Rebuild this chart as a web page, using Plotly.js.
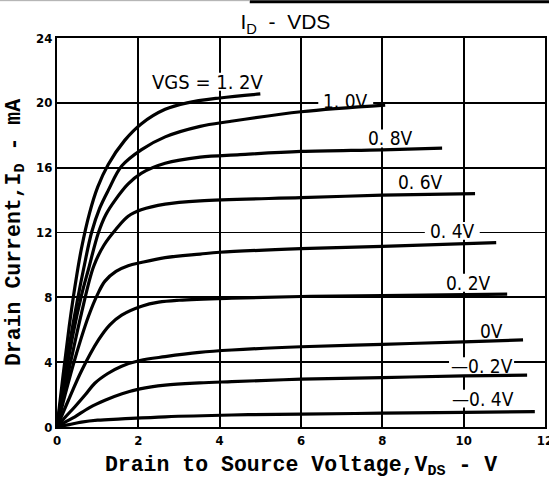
<!DOCTYPE html>
<html><head><meta charset="utf-8">
<script src="https://cdn.plot.ly/plotly-3.0.1.min.js"></script>
<style>html,body{margin:0;padding:0;background:#fff}</style>
</head><body><div id="chart" style="width:549px;height:488px"></div>
<script>
// VGS curve labels
const vgsLabels = ["VGS = 1. 2V","1. 0V","0. 8V","0. 6V","0. 4V","0. 2V","0V","—0. 2V","—0. 4V"];
// VDS (V) and ID (mA) for each VGS curve
const vds_p12 = [0,0.15,0.3,0.45,0.6,0.8,1.0,1.26,1.67,2.07,2.66,3.2,4,5];
const id_p12  = [0,3.2,6.2,8.8,11.0,13.2,14.8,16.2,17.7,18.7,19.6,20.0,20.3,20.55];
const vds_p10 = [0,0.15,0.3,0.5,0.65,0.85,1.05,1.26,1.59,2.07,2.66,3.52,4.25,6,8.07];
const id_p10  = [0,2.6,5.0,7.8,9.7,12.0,13.5,14.6,16.1,17.1,17.9,18.55,18.85,19.45,19.86];
const vds_p08 = [0,0.2,0.4,0.6,0.77,1.02,1.2,1.43,1.75,2.07,2.66,3.52,4.5,6,8,9.47];
const id_p08  = [0,3.0,5.8,8.1,9.7,12.0,13.1,14.0,15.0,15.65,16.27,16.65,16.8,17.0,17.1,17.2];
const vds_p06 = [0,0.3,0.6,0.9,1.15,1.45,1.75,2.07,2.66,3.52,6,8,10.28];
const id_p06  = [0,3.6,7.0,9.9,11.2,12.2,13.0,13.4,13.75,13.95,14.15,14.3,14.4];
const vds_p04 = [0,0.2,0.44,0.77,1.0,1.18,1.45,1.75,2.07,2.66,3.52,4,6,8,10.8];
const id_p04  = [0,2.0,4.2,6.8,8.2,9.0,9.6,9.95,10.15,10.45,10.67,10.78,11.0,11.15,11.37];
const vds_p02 = [0,0.28,0.61,1.02,1.3,1.59,2.08,2.5,3,4.3,6,8,11.07];
const id_p02  = [0,1.65,3.5,5.37,6.3,6.9,7.45,7.7,7.82,7.95,8.05,8.1,8.2];
const vds_z   = [0,0.2,0.44,0.7,0.93,1.25,1.59,2.04,2.66,3.5,4.3,6,8,10,11.46];
const id_z    = [0,0.6,1.25,2.0,2.7,3.3,3.75,4.1,4.34,4.6,4.75,4.95,5.1,5.25,5.37];
const vds_m02 = [0,0.2,0.44,0.8,1.18,1.6,2.04,2.66,3.5,4.3,6,8,10,11.56];
const id_m02  = [0,0.3,0.63,1.2,1.65,2.05,2.35,2.58,2.72,2.8,2.95,3.05,3.15,3.2];
const vds_m04 = [0,0.3,0.6,1.0,1.59,2.66,4.3,6,8,10,11.75];
const id_m04  = [0,0.15,0.3,0.42,0.5,0.63,0.74,0.8,0.85,0.9,0.95];
// label anchor positions (data units)
const labelX = [3.69,7.1,8.2,8.95,9.72,10.13,10.69,10.44,10.48];
const labelY = [21.3,20.1,17.8,15.1,12.1,8.9,5.95,3.75,1.75];

const xs = [vds_p12,vds_p10,vds_p08,vds_p06,vds_p04,vds_p02,vds_z,vds_m02,vds_m04];
const ys = [id_p12,id_p10,id_p08,id_p06,id_p04,id_p02,id_z,id_m02,id_m04];

const traces = xs.map((x,i)=>({
  x:x, y:ys[i], type:'scatter', mode:'lines', name:vgsLabels[i],
  line:{color:'#000', width:3.2, shape:'spline', smoothing:1.0},
  hoverinfo:'x+y+name'
}));

const narrow = '"Liberation Sans Narrow","DejaVu Sans Condensed",Arial,sans-serif';
const annotations = vgsLabels.map((t,i)=>({
  x:labelX[i], y:labelY[i], xref:'x', yref:'y', text:t, showarrow:false,
  font:{family:narrow, size:i===0?20:19, color:'#000'}, xanchor:'center', yanchor:'middle'
}));

const shapes = vgsLabels.map((t,i)=>{
  const hw = t.length*0.125+0.05;
  return {type:'rect', xref:'x', yref:'y', layer:'between',
    x0:labelX[i]-hw, x1:labelX[i]+hw, y0:labelY[i]-0.55, y1:labelY[i]+0.55,
    fillcolor:'#fff', line:{width:0}};
});
shapes.push({type:'line', xref:'paper', yref:'paper', x0:0.395, x1:1.02, y0:1.093, y1:1.093, line:{color:'#000', width:3}});
shapes.push({type:'line', xref:'paper', yref:'paper', x0:-0.12, x1:0.395, y0:1.096, y1:1.096, line:{color:'#aaa', width:1}});

const mono = '"Liberation Mono","Courier New",monospace';
const tickFont = {family:narrow, size:13, color:'#000', weight:'bold'};

const layout = {
  width:549, height:488,
  margin:{l:57, r:4, t:38, b:61},
  paper_bgcolor:'#fff', plot_bgcolor:'#fff',
  showlegend:false,
  title:{text:'I<sub>D</sub>  -  VDS', x:0.468, xref:'paper', xanchor:'center', y:0.955, yref:'container', yanchor:'middle',
    font:{family:'"Liberation Sans",Arial,sans-serif', size:21, color:'#000'}},
  xaxis:{range:[0,12], tickvals:[0,2,4,6,8,10,12], ticktext:['0','2','4','6','8','10','12'],
    ticklabeloverflow:'allow',
    showgrid:true, gridcolor:'#000', gridwidth:1.7, zeroline:false,
    showline:true, linecolor:'#000', linewidth:2, mirror:true, ticks:'', tickfont:tickFont,
    title:{text:'Drain to Source Voltage,V<sub>DS</sub> - V', standoff:9, font:{family:mono, size:21.5, color:'#000', weight:'bold'}}},
  yaxis:{range:[0,24], tickvals:[0,4,8,12,16,20,24], ticktext:['0','4','8','12','16','20','24'],
    showgrid:true, gridcolor:'#000', gridwidth:1.7, zeroline:false,
    showline:true, linecolor:'#000', linewidth:2, mirror:true, ticks:'', tickfont:tickFont,
    title:{text:'Drain Current,I<sub>D</sub> - mA', standoff:10, font:{family:mono, size:21.5, color:'#000', weight:'bold'}}},
  annotations:annotations,
  shapes:shapes
};
Plotly.newPlot('chart', traces, layout, {displayModeBar:false, staticPlot:true});
</script></body></html>
